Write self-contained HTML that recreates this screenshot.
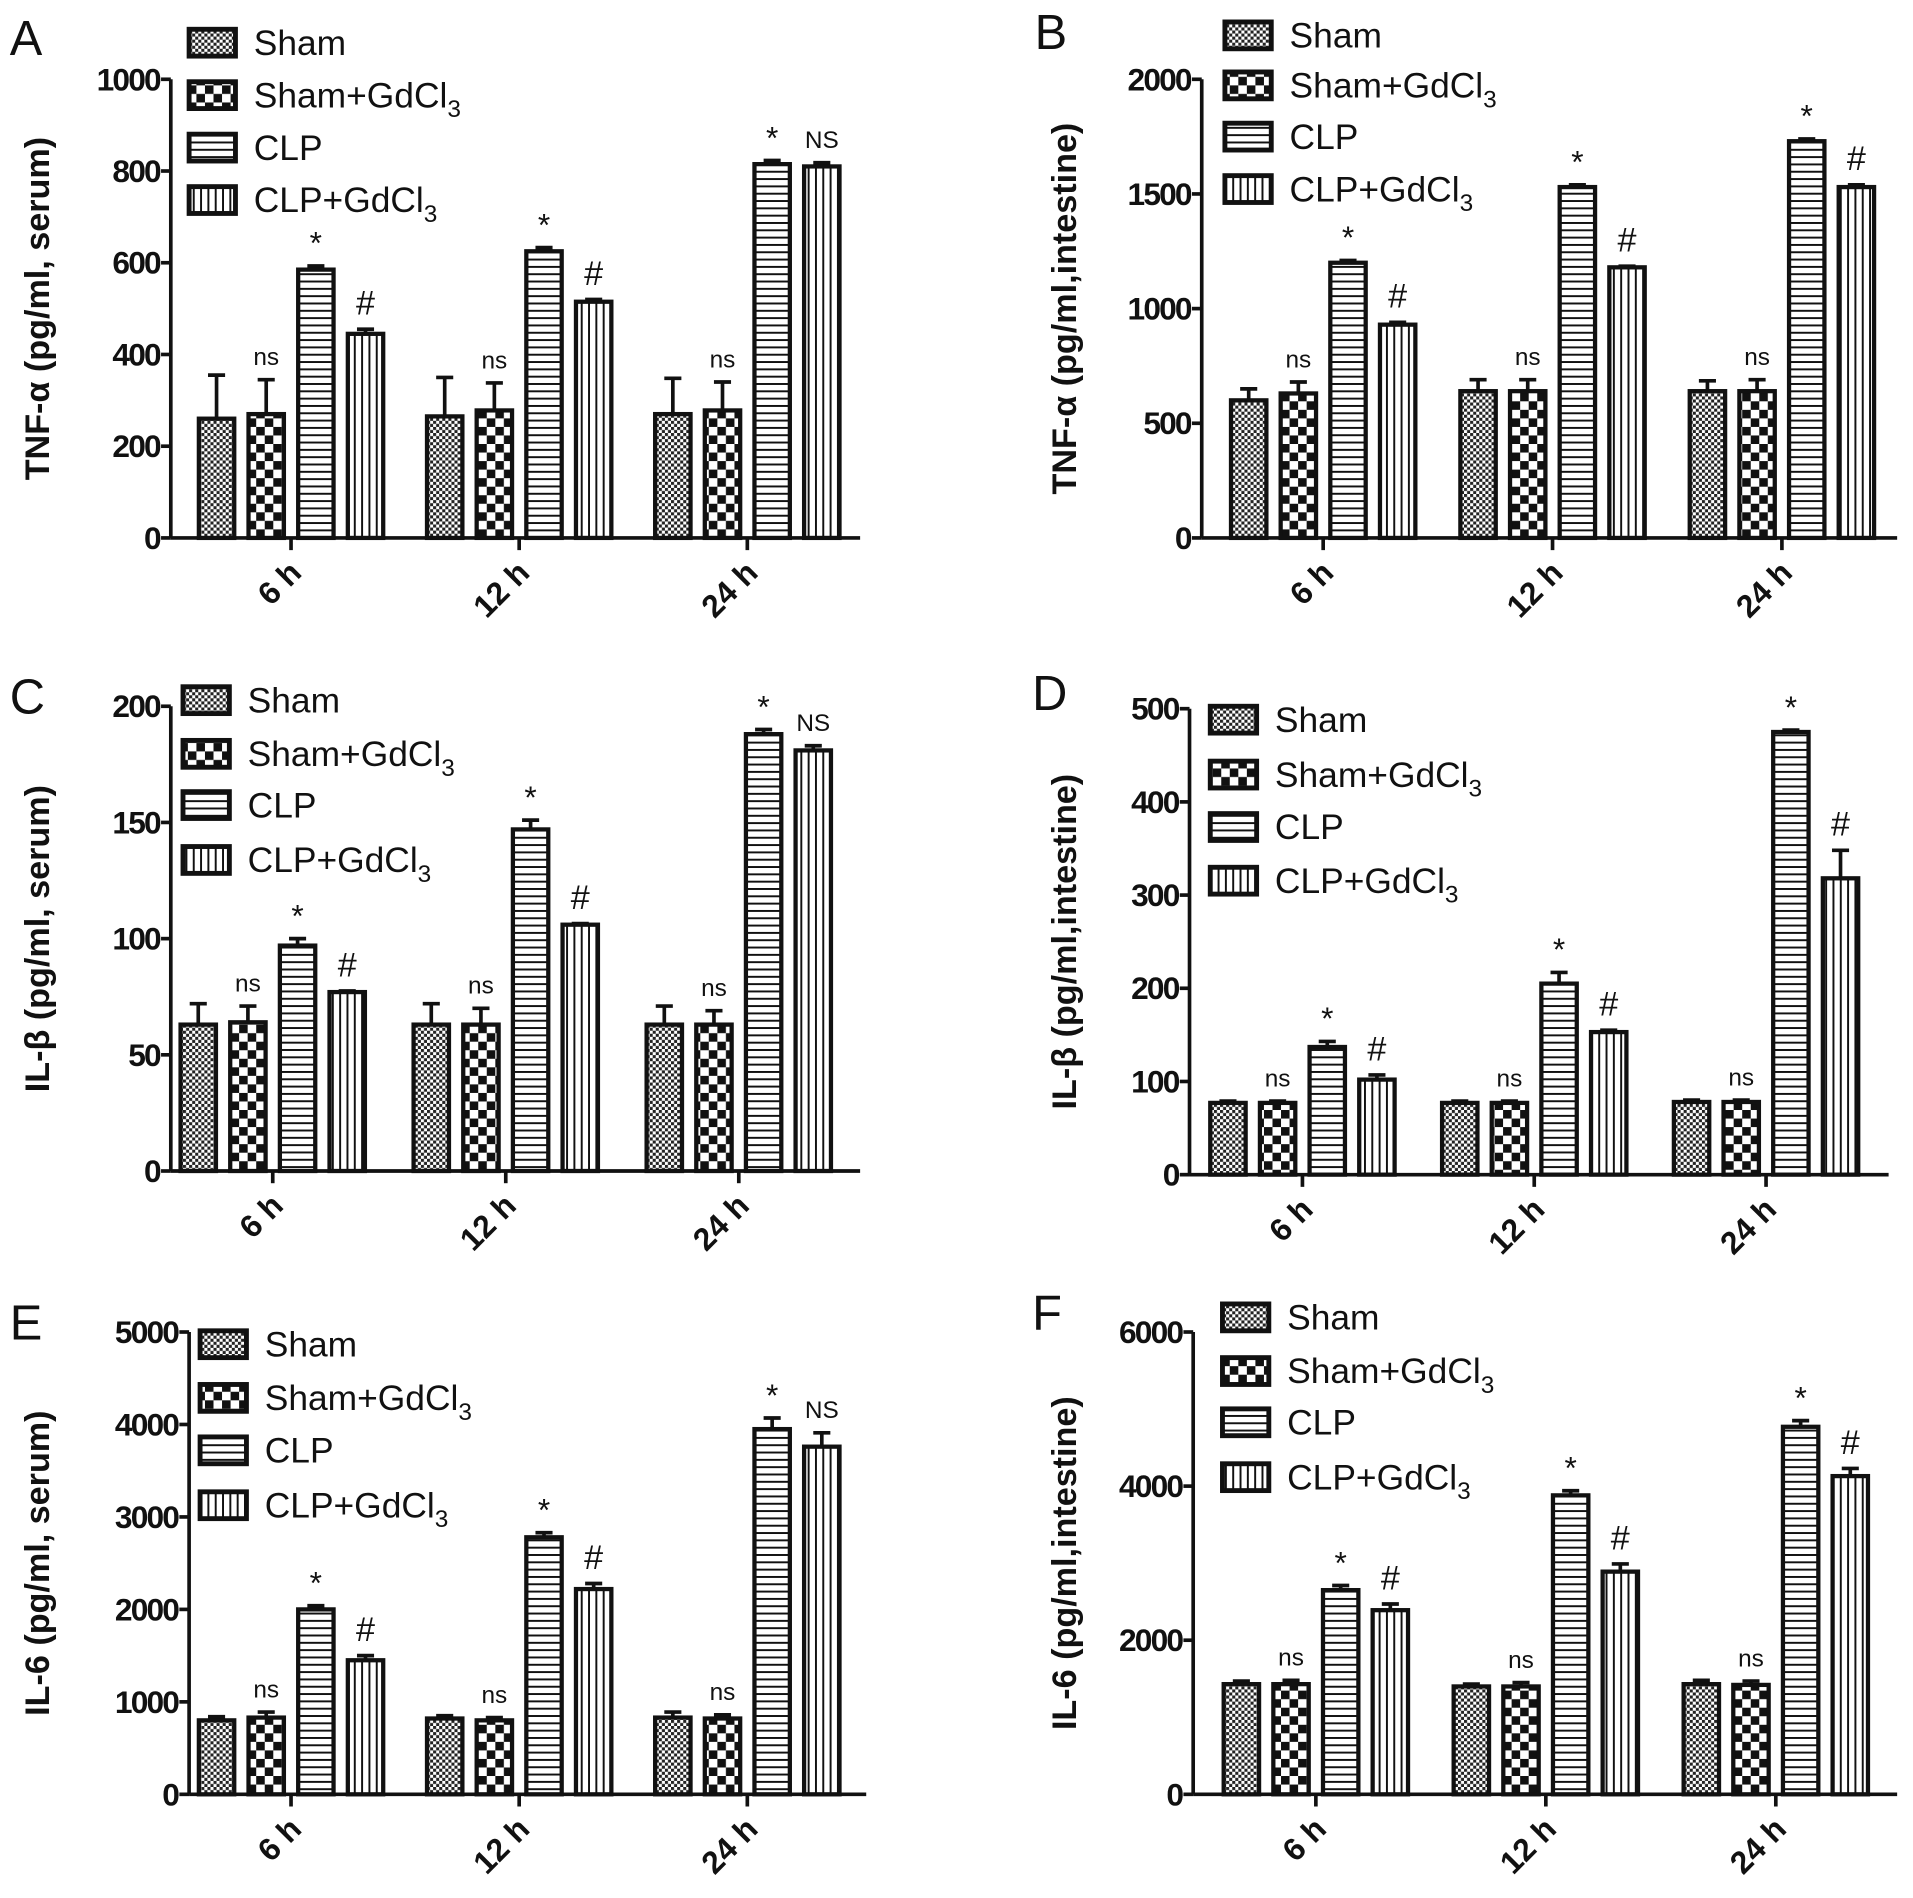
<!DOCTYPE html>
<html><head><meta charset="utf-8"><style>
html,body{margin:0;padding:0;background:#fff}
svg{display:block}
text{font-family:"Liberation Sans",Arial,sans-serif;fill:#111}
</style></head><body>
<svg id="fig" width="1913" height="1898" viewBox="0 0 1568 1556" preserveAspectRatio="none" xmlns="http://www.w3.org/2000/svg">
<defs>
<pattern id="p0" width="5" height="5" patternUnits="userSpaceOnUse"><rect width="5" height="5" fill="#fff"/><rect width="2.5" height="2.5" fill="#222"/><rect x="2.5" y="2.5" width="2.5" height="2.5" fill="#222"/></pattern>
<pattern id="p1" width="14" height="14" patternUnits="userSpaceOnUse"><rect width="14" height="14" fill="#fff"/><rect width="7" height="7" fill="#111"/><rect x="7" y="7" width="7" height="7" fill="#111"/></pattern>
<pattern id="p2" width="6" height="6" patternUnits="userSpaceOnUse"><rect width="6" height="6" fill="#fff"/><rect y="2" width="6" height="1.6" fill="#111"/></pattern>
<pattern id="p3" width="6" height="6" patternUnits="userSpaceOnUse"><rect width="6" height="6" fill="#fff"/><rect x="2" width="1.6" height="6" fill="#111"/></pattern>
</defs>
</svg>
<script>
const categories = ['6 h','12 h','24 h'];
const seriesNames = ['Sham','Sham+GdCl3','CLP','CLP+GdCl3'];
const valuesA = [[260,270,585,445],[265,278,625,515],[270,278,815,810]];
const errorsA = [[95,75,8,10],[85,60,8,5],[78,62,8,8]];
const valuesB = [[600,630,1200,930],[640,640,1530,1180],[640,640,1730,1530]];
const errorsB = [[50,50,10,10],[50,50,10,5],[45,50,10,10]];
const valuesC = [[63,64,97,77],[63,63,147,106],[63,63,188,181]];
const errorsC = [[9,7,3,0.5],[9,7,4,0.5],[8,6,2,2]];
const valuesD = [[77,77,137,102],[77,77,205,153],[78,78,475,318]];
const errorsD = [[2,2,6,5],[2,2,12,2],[2,2,2,30]];
const valuesE = [[800,830,2000,1450],[820,800,2780,2220],[830,820,3950,3760]];
const errorsE = [[40,60,40,50],[30,30,50,60],[60,40,120,150]];
const valuesF = [[1430,1430,2650,2390],[1400,1400,3880,2890],[1430,1420,4770,4130]];
const errorsF = [[40,50,60,80],[30,50,60,100],[50,50,80,100]];
const ticksA = [0,200,400,600,800,1000];
const ticksB = [0,500,1000,1500,2000];
const ticksC = [0,50,100,150,200];
const ticksD = [0,100,200,300,400,500];
const ticksE = [0,1000,2000,3000,4000,5000];
const ticksF = [0,2000,4000,6000];
const lastLabelsA = ['#','#','NS'];
const lastLabelsB = ['#','#','#'];
const lastLabelsC = ['#','#','NS'];
const lastLabelsD = ['#','#','#'];
const lastLabelsE = ['#','#','NS'];
const lastLabelsF = ['#','#','#'];

const NS='http://www.w3.org/2000/svg';
const svg=document.getElementById('fig');
function mk(tag,attrs,parent){const e=document.createElementNS(NS,tag);for(const k in attrs)e.setAttribute(k,attrs[k]);(parent||svg).appendChild(e);return e;}

const panels=[
 {id:'a',letter:'A',lx:8,ly:45,ax:140,y0:441,yt:65,xe:705,fx:163,gs:187,vals:valuesA,errs:errorsA,ticks:ticksA,last:lastLabelsA,title:'TNF-\u03b1 (pg/ml, serum)',tx:30,legX:153,legY:[35,78,121,164]},
 {id:'b',letter:'B',lx:848,ly:40,ax:985,y0:441,yt:65,xe:1555,fx:1009,gs:188,vals:valuesB,errs:errorsB,ticks:ticksB,last:lastLabelsB,title:'TNF-\u03b1 (pg/ml,intestine)',tx:872,legX:1002,legY:[29,70,112,155]},
 {id:'c',letter:'C',lx:8,ly:585,ax:140,y0:960,yt:579,xe:705,fx:148,gs:191,vals:valuesC,errs:errorsC,ticks:ticksC,last:lastLabelsC,title:'IL-\u03b2 (pg/ml, serum)',tx:30,legX:148,legY:[574,618,660,705]},
 {id:'d',letter:'D',lx:846,ly:582,ax:975,y0:963,yt:581,xe:1548,fx:992,gs:190,vals:valuesD,errs:errorsD,ticks:ticksD,last:lastLabelsD,title:'IL-\u03b2 (pg/ml,intestine)',tx:872,legX:990,legY:[590,635,678,722]},
 {id:'e',letter:'E',lx:8,ly:1098,ax:155,y0:1471,yt:1092,xe:710,fx:163,gs:187,vals:valuesE,errs:errorsE,ticks:ticksE,last:lastLabelsE,title:'IL-6 (pg/ml, serum)',tx:30,legX:162,legY:[1102,1146,1189,1234]},
 {id:'f',letter:'F',lx:846,ly:1090,ax:978,y0:1471,yt:1092,xe:1555,fx:1003,gs:188.5,vals:valuesF,errs:errorsF,ticks:ticksF,last:lastLabelsF,title:'IL-6 (pg/ml,intestine)',tx:872,legX:1000,legY:[1080,1124,1166,1211]}
];
const BW=29, BS=40.7;
panels.forEach(p=>{
 const g=mk('g',{});
 
 
 const ymax=p.ticks[p.ticks.length-1];
 const Y=v=>p.y0-(v/ymax)*(p.y0-p.yt);
 const X=(gi,si)=>p.fx+gi*p.gs+si*BS;
 const L=mk('text',{x:p.lx,y:p.ly,'font-size':40},g);L.textContent=p.letter;
 
 
 const ya=mk('line',{x1:p.ax,y1:p.yt,x2:p.ax,y2:p.y0,stroke:'#111','stroke-width':3},g);
 
 
 p.ticks.forEach(t=>{
  mk('line',{x1:p.ax-8,y1:Y(t),x2:p.ax,y2:Y(t),stroke:'#111','stroke-width':3},g);
  const tl=mk('text',{x:p.ax-9,y:Y(t)+9,'font-size':26,'font-weight':'bold','text-anchor':'end','letter-spacing':'-1.5'},g);
  tl.textContent=t;
  
  
 });
 const xa=mk('line',{x1:p.ax,y1:p.y0,x2:p.xe,y2:p.y0,stroke:'#111','stroke-width':3},g);
 
 
 const yt=mk('text',{x:0,y:0,'font-size':28,'font-weight':'bold','text-anchor':'middle',transform:`translate(${p.tx+10},${(p.y0+p.yt)/2}) rotate(-90)`},g);
 yt.textContent=p.title;
 
 
 categories.forEach((c,gi)=>{
  const cx=(X(gi,1)+BW+X(gi,2))/2;
  mk('line',{x1:cx,y1:p.y0,x2:cx,y2:p.y0+10,stroke:'#111','stroke-width':3},g);
  const cl=mk('text',{x:0,y:0,'font-size':26,'font-weight':'bold','text-anchor':'end',transform:`translate(${cx+10},${p.y0+30}) rotate(-45)`},g);
  cl.textContent=c;
  
  
  p.vals[gi].forEach((v,si)=>{
   const x=X(gi,si), e=p.errs[gi][si];
   const top=Y(v+e);
   mk('line',{x1:x+BW/2,y1:Y(v),x2:x+BW/2,y2:top,stroke:'#111','stroke-width':3},g);
   mk('line',{x1:x+BW/2-7,y1:top,x2:x+BW/2+7,y2:top,stroke:'#111','stroke-width':3},g);
   const r=mk('rect',{x:x,y:Y(v),width:BW,height:p.y0-Y(v),fill:`url(#p${si})`,stroke:'#111','stroke-width':3.5},g);
   
   
   let lab=null,fs=20;
   if(si===1)lab='ns';
   if(si===2){lab='*';fs=26;}
   if(si===3){lab=p.last[gi];fs=lab==='#'?28:20;}
   if(lab){
    const at=mk('text',{x:x+BW/2,y:top-(lab==='*'?10:12),'font-size':fs,'text-anchor':'middle'},g);
    at.textContent=lab;
    
    
   }
  });
 });
 seriesNames.forEach((n,si)=>{
  const y=p.legY[si];
  const lg=mk('g',{},g);
  
  
  mk('rect',{x:p.legX+2,y:y-11,width:38,height:22,fill:`url(#p${si})`,stroke:'#111','stroke-width':4},lg);
  const t=mk('text',{x:p.legX+55,y:y+10,'font-size':29},lg);
  if(n.endsWith('GdCl3')){
   t.textContent=n.slice(0,-1);
   const s=mk('tspan',{'font-size':20,dy:8},t);s.textContent='3';
  } else t.textContent=n;
 });
});
</script>
</body></html>
